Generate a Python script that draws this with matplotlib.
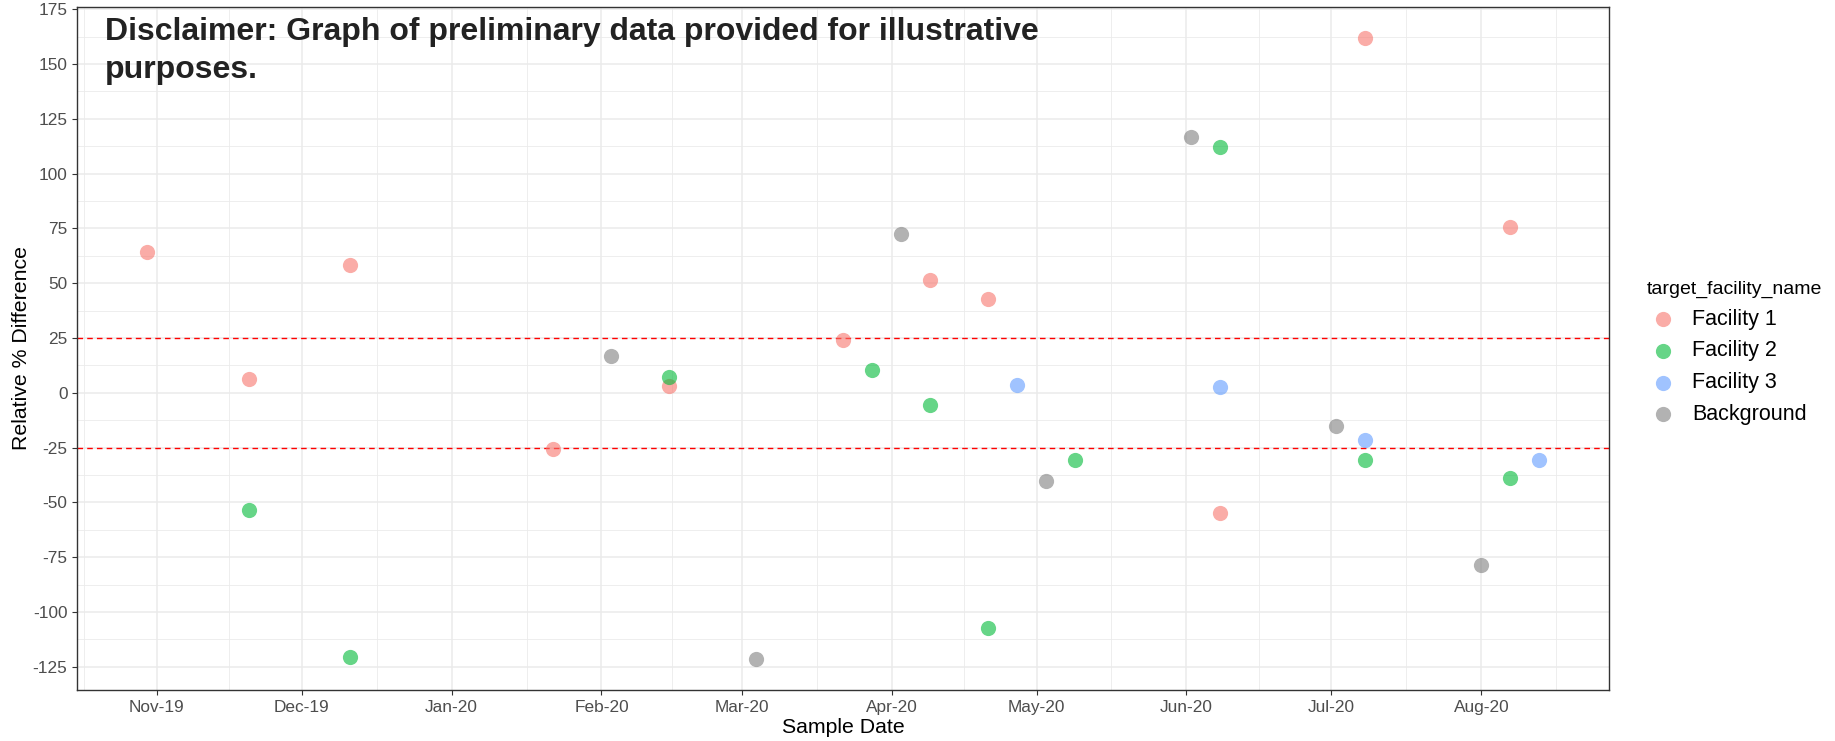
import matplotlib
matplotlib.use('Agg')
import matplotlib.pyplot as plt
import matplotlib.dates as mdates
import numpy as np
import pandas as pd

plt.rcParams['font.family'] = ['Liberation Sans', 'DejaVu Sans']
plt.rcParams['axes.unicode_minus'] = False

# Relative % difference per sample date, one set of lists per facility.
f1_dates = ['2019-10-30', '2019-11-20', '2019-12-11', '2020-01-22', '2020-02-15',
            '2020-03-22', '2020-04-09', '2020-04-21', '2020-06-08', '2020-07-08',
            '2020-08-07']
f1_values = [64.1, 6.2, 58.5, -25.5, 3.3, 24.3, 51.7, 42.9, -54.9, 162.0, 75.5]

f2_dates = ['2019-11-20', '2019-12-11', '2020-02-15', '2020-03-28', '2020-04-09',
            '2020-04-21', '2020-05-09', '2020-06-08', '2020-07-08', '2020-08-07']
f2_values = [-53.4, -120.4, 7.0, 10.6, -5.6, -107.1, -30.5, 112.0, -30.5, -38.7]

f3_dates = ['2020-04-27', '2020-06-08', '2020-07-08', '2020-08-13']
f3_values = [3.7, 2.5, -21.7, -30.5]

bg_dates = ['2020-02-03', '2020-03-04', '2020-04-03', '2020-05-03', '2020-06-02',
            '2020-07-02', '2020-08-01']
bg_values = [16.9, -121.4, 72.3, -40.0, 116.6, -15.0, -78.6]

names = ['Facility 1', 'Facility 2', 'Facility 3', 'Background']
colors = ['#F8766D', '#00BA38', '#619CFF', '#7F7F7F']
thresholds = [25, -25]
month_ticks = ['2019-11-01', '2019-12-01', '2020-01-01', '2020-02-01', '2020-03-01',
               '2020-04-01', '2020-05-01', '2020-06-01', '2020-07-01', '2020-08-01']

series = [(f1_dates, f1_values), (f2_dates, f2_values),
          (f3_dates, f3_values), (bg_dates, bg_values)]

fig = plt.figure(figsize=(18.35, 7.41), dpi=100)
ax = fig.add_axes([0.0422, 0.0688, 0.8346, 0.9222])

for (d, v), name, c in zip(series, names, colors):
    ax.scatter(pd.to_datetime(d), v, s=120, color=c, alpha=0.6,
               linewidths=0, label=name, zorder=3)

for t in thresholds:
    ax.axhline(t, color='red', linewidth=1.0, dashes=(4, 3), zorder=2)

# major / minor breaks
ticks = mdates.date2num(pd.to_datetime(month_ticks))
mids = (ticks[:-1] + ticks[1:]) / 2
minor = np.concatenate([[ticks[0] - (mids[0] - ticks[0])], mids,
                        [ticks[-1] + (ticks[-1] - mids[-1])]])
ax.set_xticks(ticks)
ax.set_xticks(minor, minor=True)
ax.xaxis.set_major_formatter(mdates.DateFormatter('%b-%y'))

ax.set_yticks(np.arange(-125, 176, 25))
ax.set_yticks(np.arange(-112.5, 176, 25), minor=True)

# ggplot-style 5% expansion of the data range (set after the ticks)
all_x = mdates.date2num(pd.to_datetime(f1_dates + f2_dates + f3_dates + bg_dates))
all_y = np.array(f1_values + f2_values + f3_values + bg_values)
dx = 0.05 * (all_x.max() - all_x.min())
dy = 0.05 * (all_y.max() - all_y.min())
ax.set_xlim(all_x.min() - dx, all_x.max() + dx)
ax.set_ylim(all_y.min() - dy, all_y.max() + dy)

ax.grid(which='major', color='#EBEBEB', linewidth=1.1, zorder=0)
ax.grid(which='minor', color='#EBEBEB', linewidth=0.6, zorder=0)
ax.set_axisbelow(True)

for s in ax.spines.values():
    s.set_color('#333333')
    s.set_linewidth(1.0)

ax.tick_params(which='major', length=3.6, width=0.8, color='#333333',
               labelsize=12.4, labelcolor='#4D4D4D', pad=3.6)
ax.tick_params(which='minor', length=0)

ax.set_xlabel('Sample Date', fontsize=15.3, labelpad=2)
ax.set_ylabel('Relative % Difference', fontsize=15.3, labelpad=1)

ax.text(0.018, 0.985,
        'Disclaimer: Graph of preliminary data provided for illustrative\npurposes.',
        transform=ax.transAxes, ha='left', va='top', fontsize=23,
        fontweight='bold', color='#222222', linespacing=1.37)

leg = ax.legend(title='target_facility_name', loc='upper left',
                bbox_to_anchor=(1636 / 1835, 1 - 270 / 741),
                bbox_transform=fig.transFigure, frameon=False,
                fontsize=15.5, title_fontsize=14, borderpad=0,
                handlelength=1.5, handletextpad=0.6, labelspacing=0.5,
                scatterpoints=1)
leg._legend_box.align = 'left'

fig.savefig('out.png', dpi=100)
